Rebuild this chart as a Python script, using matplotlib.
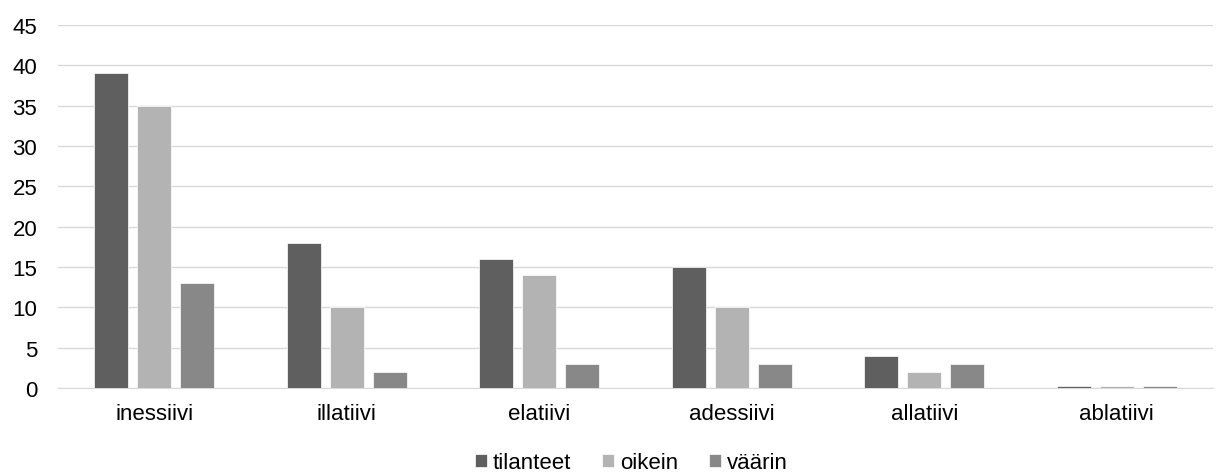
import numpy as np
import matplotlib.pyplot as plt

plt.rcParams['font.family'] = ['Liberation Sans', 'DejaVu Sans']

# Sijamuodot ja tilanteiden määrät
sijat = ['inessiivi', 'illatiivi', 'elatiivi', 'adessiivi', 'allatiivi', 'ablatiivi']
tilanteet = [39, 18, 16, 15, 4, 0.3]
oikein = [35, 10, 14, 10, 2, 0.3]
vaarin = [13, 2, 3, 3, 3, 0.3]

sarjat = [('tilanteet', tilanteet, '#5f5f5f'),
          ('oikein', oikein, '#b3b3b3'),
          ('väärin', vaarin, '#888888')]

fig = plt.figure(figsize=(12.21, 4.77), dpi=100)
ax = fig.add_axes([0.0475, 0.1845, 0.946, 0.761])

x = np.arange(len(sijat))
leveys = 0.177
vali = 0.223
for i, (nimi, arvot, vari) in enumerate(sarjat):
    ax.bar(x + (i - 1) * vali, arvot, leveys, color=vari, label=nimi,
           edgecolor='white', linewidth=0.5, zorder=3)

ax.set_xlim(-0.5, len(sijat) - 0.5)
ax.set_ylim(0, 45)
ax.set_yticks(range(0, 46, 5))
ax.set_xticks(x)
ax.set_xticklabels(sijat)
ax.tick_params(axis='both', length=0, labelsize=16, colors='black')
ax.tick_params(axis='x', pad=11)
ax.tick_params(axis='y', pad=15)
ax.grid(axis='y', color='#d9d9d9', linewidth=1, zorder=0)
for s in ['top', 'right', 'left']:
    ax.spines[s].set_visible(False)
ax.spines['bottom'].set_color('#d9d9d9')

fig.legend(loc='center', bbox_to_anchor=(0.517, 0.028), ncol=3, frameon=False,
           fontsize=16, handlelength=0.55, handleheight=0.55, handletextpad=0.25,
           columnspacing=1.4)

plt.savefig('out.png', dpi=100)
